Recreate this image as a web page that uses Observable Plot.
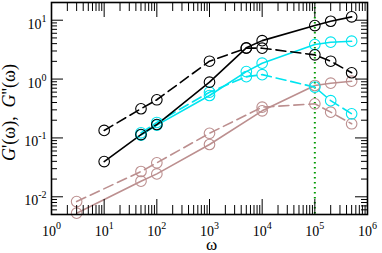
<!DOCTYPE html>
<html><head><meta charset="utf-8">
<script src="https://cdn.jsdelivr.net/npm/d3@7"></script>
<script src="https://cdn.jsdelivr.net/npm/@observablehq/plot@0.6"></script>
<style>body{margin:0;background:#fff}</style>
</head><body><div id="chart"></div>
<script>
// ---- data ----
const omegaBlack = [10, 50, 100, 1000, 5000, 10000, 1e5, 2e5, 5e5];
const gPrimeBlack = [0.0397, 0.114, 0.169, 0.885, 3.4, 4.5, 8.1, 9.6, 11.4];
const gDoubleBlack = [0.134, 0.313, 0.445, 2.01, 3.35, 3.35, 2.58, 2.01, 1.28];

const omegaCyan = [50, 100, 1000, 5000, 10000, 1e5, 2e5, 5e5];
const gPrimeCyan = [0.112, 0.165, 0.526, 1.34, 1.86, 3.86, 4.23, 4.4];
const gDoubleCyan = [0.122, 0.183, 0.598, 1.10, 1.19, 0.73, 0.43, 0.257];

const omegaBrown = [3, 50, 100, 1000, 10000, 1e5, 2e5, 5e5];
const gPrimeBrown = [0.00526, 0.0184, 0.0245, 0.0773, 0.289, 0.778, 0.851, 0.92];
const gDoubleBrown = [0.0083, 0.0269, 0.0378, 0.12, 0.333, 0.38, 0.274, 0.174];

const markerOmega = [1e5];

const xMajorTicks = [1, 10, 100, 1000, 1e4, 1e5, 1e6];
const xTickLabels = ["10^0", "10^1", "10^2", "10^3", "10^4", "10^5", "10^6"];
const yMajorTicks = [0.01, 0.1, 1, 10];
const yTickLabels = ["10^-2", "10^-1", "10^0", "10^1"];
const xLabel = "ω";
const yLabel = "G'(ω),  G''(ω)";

// ---- build tables ----
const series = (name, xs, ys) => xs.map((x, i) => ({name, x, y: ys[i]}));
const blackP = series("bp", omegaBlack, gPrimeBlack);
const blackD = series("bd", omegaBlack, gDoubleBlack);
const cyanP = series("cp", omegaCyan, gPrimeCyan);
const cyanD = series("cd", omegaCyan, gDoubleCyan);
const brownP = series("rp", omegaBrown, gPrimeBrown);
const brownD = series("rd", omegaBrown, gDoubleBrown);

const minorOf = (lo, hi) => {
  const out = [];
  for (let e = lo; e < hi; e++) for (let m = 2; m <= 9; m++) out.push(m * Math.pow(10, e));
  return out;
};
const xMinorTicks = minorOf(0, 6);
const yMinorTicks = [0.005, 0.006, 0.007, 0.008, 0.009, ...minorOf(-2, 1), 20];

const W = 382, H = 253, ML = 51, MR = 15, MT = 2, MB = 39;
const PW = W - ML - MR, PH = H - MT - MB;
const BLACK = "#000", CYAN = "#00e4ef", BROWN = "#bc8f8f", GREEN = "#009a00";
const FONT = "Liberation Serif, Times New Roman, serif";

const lineMark = (data, color, dashed) => Plot.line(data, {x: "x", y: "y", stroke: color, strokeWidth: 1.6, strokeDasharray: dashed ? "10,5" : null});
const dotMark = (data, color) => Plot.dot(data, {x: "x", y: "y", r: 5.3, stroke: color, strokeWidth: 1.1, fill: "none"});

const svg = Plot.plot({
  width: W, height: H,
  marginLeft: ML, marginRight: MR, marginTop: MT, marginBottom: MB,
  style: {background: "white", overflow: "visible"},
  x: {type: "log", domain: [1, 1e6], axis: null},
  y: {type: "log", domain: [0.005, 20], axis: null},
  marks: [
    Plot.ruleX(markerOmega, {x: d => d, stroke: GREEN, strokeWidth: 2, strokeDasharray: "1.5,3.5"}),
    lineMark(brownP, BROWN, false), lineMark(brownD, BROWN, true),
    lineMark(cyanP, CYAN, false), lineMark(cyanD, CYAN, true),
    lineMark(blackP, BLACK, false), lineMark(blackD, BLACK, true),
    dotMark(brownP, BROWN), dotMark(brownD, BROWN),
    dotMark(cyanP, CYAN), dotMark(cyanD, CYAN),
    dotMark(blackP, BLACK), dotMark(blackD, BLACK),
    // inward ticks, all four sides
    Plot.tickX(xMajorTicks, {x: d => d, insetTop: PH - 15, stroke: "black"}),
    Plot.tickX(xMinorTicks, {x: d => d, insetTop: PH - 9, stroke: "black"}),
    Plot.tickX(xMajorTicks, {x: d => d, insetBottom: PH - 15, stroke: "black"}),
    Plot.tickX(xMinorTicks, {x: d => d, insetBottom: PH - 9, stroke: "black"}),
    Plot.tickY(yMajorTicks, {y: d => d, insetRight: PW - 12, stroke: "black"}),
    Plot.tickY(yMinorTicks, {y: d => d, insetRight: PW - 6, stroke: "black"}),
    Plot.tickY(yMajorTicks, {y: d => d, insetLeft: PW - 12, stroke: "black"}),
    Plot.tickY(yMinorTicks, {y: d => d, insetLeft: PW - 6, stroke: "black"}),
    Plot.frame({stroke: "black", strokeWidth: 1.6}),
    // tick labels
    Plot.text(xMajorTicks, {x: d => d, frameAnchor: "bottom", dy: 21, lineAnchor: "bottom", textAnchor: "middle",
      text: (d, i) => xTickLabels[i], fontSize: 14, fontFamily: FONT, fill: "black"}),
    Plot.text(yMajorTicks, {y: d => d, frameAnchor: "left", dx: -5, dy: 8.5, lineAnchor: "bottom", textAnchor: "end",
      text: (d, i) => yTickLabels[i], fontSize: 14, fontFamily: FONT, fill: "black"}),
    // axis titles
    Plot.text([xLabel], {frameAnchor: "bottom", dx: 2, dy: 35, lineAnchor: "bottom", textAnchor: "middle", text: d => d, fontSize: 17, fontFamily: FONT, fill: "black"}),
    Plot.text([yLabel], {frameAnchor: "left", dx: -37, dy: 4, rotate: -90, lineAnchor: "bottom", textAnchor: "middle", text: d => d, fontSize: 18, fontFamily: FONT, fill: "black"})
  ]
});

// typographic touches: superscript exponents, italic G
d3.select(svg).selectAll("text").each(function () {
  const t = this.textContent;
  const sel = d3.select(this);
  if (t.startsWith("10^")) {
    const e = t.slice(3);
    sel.text(null);
    sel.append("tspan").text("10");
    sel.append("tspan").attr("dy", -7).attr("font-size", 10).text(e);
  } else if (t === yLabel) {
    sel.text(null);
    sel.append("tspan").attr("font-style", "italic").text("G");
    sel.append("tspan").text("'(ω),\u00a0\u00a0");
    sel.append("tspan").attr("font-style", "italic").text("G");
    sel.append("tspan").text("''(ω)");
  }
});

document.getElementById("chart").appendChild(svg);
</script>
</body></html>
